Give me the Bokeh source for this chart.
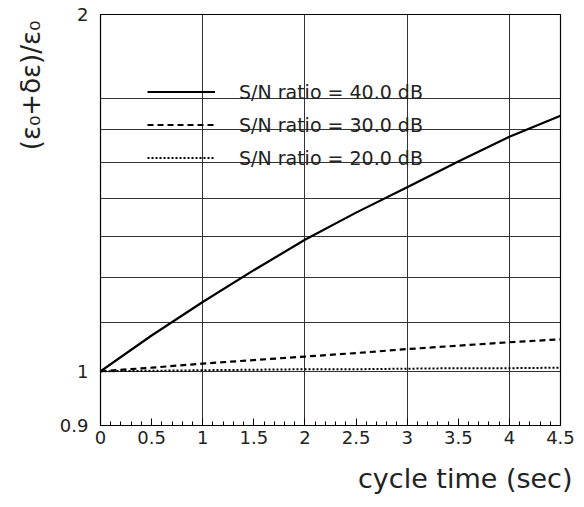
from bokeh.plotting import figure
from bokeh.models import (Range1d, FixedTicker, CustomJSTickFormatter, Title,
                          Legend, LegendItem)
from bokeh.embed import file_html
from bokeh.resources import INLINE

# ---- data ----
cycle_time = [0.0, 0.5, 1.0, 1.5, 2.0, 2.5, 3.0, 3.5, 4.0, 4.5]
snr40 = [1.000, 1.072, 1.144, 1.217, 1.291, 1.361, 1.430, 1.503, 1.577, 1.643]
snr30 = [1.000, 1.007, 1.015, 1.022, 1.029, 1.036, 1.044, 1.051, 1.058, 1.064]
snr20 = [1.000, 1.001, 1.002, 1.003, 1.004, 1.004, 1.005, 1.006, 1.006, 1.007]
series_labels = ["S/N ratio = 40.0 dB", "S/N ratio = 30.0 dB", "S/N ratio = 20.0 dB"]
x_title = "cycle time (sec)"
y_title = "(ε₀+δε)/ε₀"

x_ticks = [0.0, 0.5, 1.0, 1.5, 2.0, 2.5, 3.0, 3.5, 4.0, 4.5]
x_minor = [round(0.1 * i, 1) for i in range(46)]
y_ticks = [0.9, 1.0, 2.0]
x_grid = [1.0, 2.0, 3.0, 4.0]
y_grid = [1.0, 1.1, 1.2, 1.3, 1.4, 1.5, 1.6, 1.7]

FONT = "DejaVu Sans"

p = figure(width=584, height=507, output_backend="svg", toolbar_location=None,
           y_axis_type="log", x_range=Range1d(0, 4.5), y_range=Range1d(0.9, 2.0),
           min_border_left=100, min_border_right=24, min_border_top=14,
           min_border_bottom=81)
p.background_fill_color = "white"
p.border_fill_color = "white"
p.outline_line_color = "black"
p.outline_line_width = 1.2

fmt = CustomJSTickFormatter(code="return String(Math.round(tick*10)/10);")

# x axis
xa = p.xaxis[0]
xa.ticker = FixedTicker(ticks=x_ticks, minor_ticks=x_minor)
xa.formatter = fmt
xa.major_tick_in = 7
xa.major_tick_out = 0
xa.minor_tick_in = 4
xa.minor_tick_out = 0
xa.major_tick_line_color = "black"
xa.minor_tick_line_color = "black"
xa.axis_line_color = "black"
xa.major_label_text_font = FONT
xa.major_label_text_font_size = "18px"
xa.major_label_text_color = "#222222"
xa.major_label_standoff = 5

# y axis
ya = p.yaxis[0]
ya.ticker = FixedTicker(ticks=y_ticks)
ya.formatter = fmt
ya.major_tick_in = 0
ya.major_tick_out = 0
ya.minor_tick_line_color = None
ya.axis_line_color = "black"
ya.major_label_text_font = FONT
ya.major_label_text_font_size = "18px"
ya.major_label_text_color = "#222222"
ya.major_label_standoff = 12

# grids
p.xgrid.ticker = FixedTicker(ticks=x_grid)
p.ygrid.ticker = FixedTicker(ticks=y_grid)
for g in (p.xgrid[0], p.ygrid[0]):
    g.grid_line_color = "#333333"
    g.grid_line_width = 1
    g.grid_line_alpha = 1.0

# curves
r40 = p.line(cycle_time, snr40, line_color="black", line_width=2.2)
r30 = p.line(cycle_time, snr30, line_color="black", line_width=2.2, line_dash="6 4")
r20 = p.line(cycle_time, snr20, line_color="black", line_width=2.0, line_dash="2 2")

legend = Legend(items=[LegendItem(label=series_labels[0], renderers=[r40]),
                       LegendItem(label=series_labels[1], renderers=[r30]),
                       LegendItem(label=series_labels[2], renderers=[r20])],
                location=(47, 251), padding=0, margin=0, spacing=0,
                glyph_width=68, glyph_height=33, label_height=33,
                label_standoff=24, border_line_alpha=0,
                background_fill_alpha=0,
                label_text_font=FONT, label_text_font_size="19px",
                label_text_color="#222222", label_text_baseline="alphabetic")
p.add_layout(legend)

# axis titles
p.add_layout(Title(text=x_title, align="right", offset=-12, standoff=28,
                   text_font=FONT, text_font_size="27px", text_font_style="normal",
                   text_color="#222222"), "below")
p.add_layout(Title(text=y_title, align="right", offset=6, standoff=21,
                   text_font=FONT, text_font_size="26px", text_font_style="normal",
                   text_color="#222222"), "left")

open("out.html", "w").write(file_html(p, INLINE))
